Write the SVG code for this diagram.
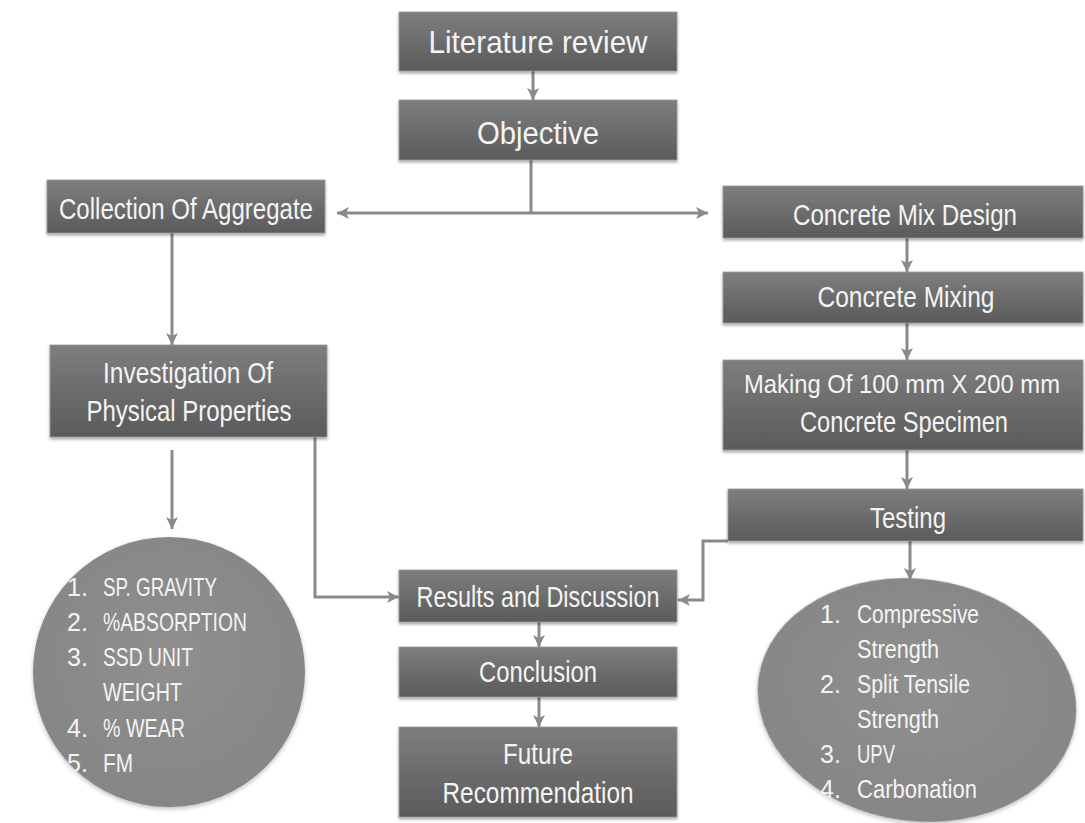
<svg xmlns="http://www.w3.org/2000/svg" width="1085" height="823" viewBox="0 0 1085 823">
<style>
.box{fill:url(#bg);stroke:#9a9a9a;stroke-width:0.8;filter:url(#sh)}
.t{font-family:"Liberation Sans",Arial,sans-serif;fill:#f4f4f4;text-anchor:middle;font-size:29px}
.tl{font-family:"Liberation Sans",Arial,sans-serif;fill:#f4f4f4;text-anchor:middle;font-size:32px}
.to{font-family:"Liberation Sans",Arial,sans-serif;fill:#f4f4f4;text-anchor:middle;font-size:31px}
.tm{font-family:"Liberation Sans",Arial,sans-serif;fill:#f4f4f4;text-anchor:middle;font-size:25px}
.l{font-family:"Liberation Sans",Arial,sans-serif;fill:#f4f4f4;font-size:25px}
.c{fill:none;stroke:#8a8a8a;stroke-width:3}
.el{fill:url(#eg);filter:url(#sh2)}
</style>
<defs>
<linearGradient id="bg" x1="0" y1="0" x2="0" y2="1">
<stop offset="0" stop-color="#7e7e7e"/>
<stop offset="0.5" stop-color="#6c6c6c"/>
<stop offset="1" stop-color="#5b5b5b"/>
</linearGradient>
<radialGradient id="eg" cx="0.5" cy="0.45" r="0.55">
<stop offset="0" stop-color="#8f8f8f"/>
<stop offset="1" stop-color="#868686"/>
</radialGradient>
<filter id="sh" x="-5%" y="-10%" width="110%" height="130%">
<feDropShadow dx="0" dy="2" stdDeviation="1.5" flood-color="#000" flood-opacity="0.35"/>
</filter>
<filter id="sh2" x="-5%" y="-5%" width="110%" height="115%">
<feDropShadow dx="0" dy="2" stdDeviation="2" flood-color="#000" flood-opacity="0.25"/>
</filter>
<marker id="ah" markerUnits="userSpaceOnUse" markerWidth="14" markerHeight="14" refX="12" refY="7" orient="auto-start-reverse">
<path d="M0,1 L12,7 L0,13 L3,7 Z" fill="#8a8a8a"/>
</marker>
</defs>
<rect width="1085" height="823" fill="#ffffff"/>

<g id="connectors">
<line class="c" x1="533" y1="71" x2="533" y2="100" marker-end="url(#ah)"/>
<line class="c" x1="531" y1="160" x2="531" y2="213"/>
<line class="c" x1="337" y1="213" x2="708" y2="213" marker-start="url(#ah)" marker-end="url(#ah)"/>
<line class="c" x1="172" y1="233" x2="172" y2="345" marker-end="url(#ah)"/>
<line class="c" x1="172" y1="450" x2="172" y2="529" marker-end="url(#ah)"/>
<path class="c" d="M315,437 V597 H399" marker-end="url(#ah)"/>
<line class="c" x1="907" y1="238" x2="907" y2="272" marker-end="url(#ah)"/>
<line class="c" x1="907" y1="323" x2="907" y2="360" marker-end="url(#ah)"/>
<line class="c" x1="907" y1="450" x2="907" y2="489" marker-end="url(#ah)"/>
<path class="c" d="M728,541 H703 V600 H678" marker-end="url(#ah)"/>
<line class="c" x1="910" y1="541" x2="910" y2="580" marker-end="url(#ah)"/>
<line class="c" x1="539" y1="622" x2="539" y2="647" marker-end="url(#ah)"/>
<line class="c" x1="539" y1="697" x2="539" y2="727" marker-end="url(#ah)"/>
</g>

<g id="literature">
<rect class="box" x="399" y="12" width="278" height="59"/>
<text class="tl" x="538" y="53" textLength="219" lengthAdjust="spacingAndGlyphs">Literature review</text>
</g>
<g id="objective">
<rect class="box" x="399" y="100" width="278" height="60"/>
<text class="to" x="538" y="144" textLength="122" lengthAdjust="spacingAndGlyphs">Objective</text>
</g>
<g id="collection">
<rect class="box" x="47" y="180" width="278" height="53"/>
<text class="t" x="186" y="219" textLength="254" lengthAdjust="spacingAndGlyphs">Collection Of Aggregate</text>
</g>
<g id="investigation">
<rect class="box" x="50" y="345" width="277" height="92"/>
<text class="t" x="188" y="383" textLength="170" lengthAdjust="spacingAndGlyphs">Investigation Of</text>
<text class="t" x="189" y="421" textLength="205" lengthAdjust="spacingAndGlyphs">Physical Properties</text>
</g>
<g id="mixdesign">
<rect class="box" x="723" y="186" width="360" height="52"/>
<text class="t" x="905" y="225" textLength="224" lengthAdjust="spacingAndGlyphs">Concrete Mix Design</text>
</g>
<g id="mixing">
<rect class="box" x="723" y="272" width="360" height="51"/>
<text class="t" x="906" y="307" textLength="177" lengthAdjust="spacingAndGlyphs">Concrete Mixing</text>
</g>
<g id="making">
<rect class="box" x="723" y="360" width="360" height="90"/>
<text class="tm" x="902" y="393" textLength="316" lengthAdjust="spacingAndGlyphs">Making Of 100 mm X 200 mm</text>
<text class="t" x="904" y="432" textLength="208" lengthAdjust="spacingAndGlyphs">Concrete Specimen</text>
</g>
<g id="testing">
<rect class="box" x="728" y="489" width="355" height="52"/>
<text class="t" x="908" y="528" textLength="76" lengthAdjust="spacingAndGlyphs">Testing</text>
</g>
<g id="results">
<rect class="box" x="399" y="570" width="278" height="52"/>
<text class="t" x="538" y="607" textLength="243" lengthAdjust="spacingAndGlyphs">Results and Discussion</text>
</g>
<g id="conclusion">
<rect class="box" x="399" y="647" width="278" height="50"/>
<text class="t" x="538" y="682" textLength="118" lengthAdjust="spacingAndGlyphs">Conclusion</text>
</g>
<g id="future">
<rect class="box" x="399" y="727" width="278" height="90"/>
<text class="t" x="538" y="764" textLength="70" lengthAdjust="spacingAndGlyphs">Future</text>
<text class="t" x="538" y="803" textLength="191" lengthAdjust="spacingAndGlyphs">Recommendation</text>
</g>

<g id="physical-list">
<ellipse class="el" cx="169" cy="672" rx="136" ry="135"/>
<text class="l" x="67" y="596">1.</text><text class="l" x="103" y="596" textLength="114" lengthAdjust="spacingAndGlyphs">SP. GRAVITY</text>
<text class="l" x="67" y="631">2.</text><text class="l" x="103" y="631" textLength="144" lengthAdjust="spacingAndGlyphs">%ABSORPTION</text>
<text class="l" x="67" y="666">3.</text><text class="l" x="103" y="666" textLength="90" lengthAdjust="spacingAndGlyphs">SSD UNIT</text>
<text class="l" x="103" y="701" textLength="79" lengthAdjust="spacingAndGlyphs">WEIGHT</text>
<text class="l" x="67" y="737">4.</text><text class="l" x="103" y="737" textLength="82" lengthAdjust="spacingAndGlyphs">% WEAR</text>
<text class="l" x="67" y="772">5.</text><text class="l" x="103" y="772" textLength="30" lengthAdjust="spacingAndGlyphs">FM</text>
</g>

<g id="testing-list">
<ellipse class="el" cx="917" cy="700" rx="160" ry="121" transform="rotate(8 917 700)"/>
<text class="l" x="820" y="623">1.</text><text class="l" x="857" y="623" textLength="122" lengthAdjust="spacingAndGlyphs">Compressive</text>
<text class="l" x="857" y="658" textLength="82" lengthAdjust="spacingAndGlyphs">Strength</text>
<text class="l" x="820" y="693">2.</text><text class="l" x="857" y="693" textLength="113" lengthAdjust="spacingAndGlyphs">Split Tensile</text>
<text class="l" x="857" y="728" textLength="82" lengthAdjust="spacingAndGlyphs">Strength</text>
<text class="l" x="820" y="763">3.</text><text class="l" x="857" y="763" textLength="38" lengthAdjust="spacingAndGlyphs">UPV</text>
<text class="l" x="820" y="798">4.</text><text class="l" x="857" y="798" textLength="120" lengthAdjust="spacingAndGlyphs">Carbonation</text>
</g>
</svg>
